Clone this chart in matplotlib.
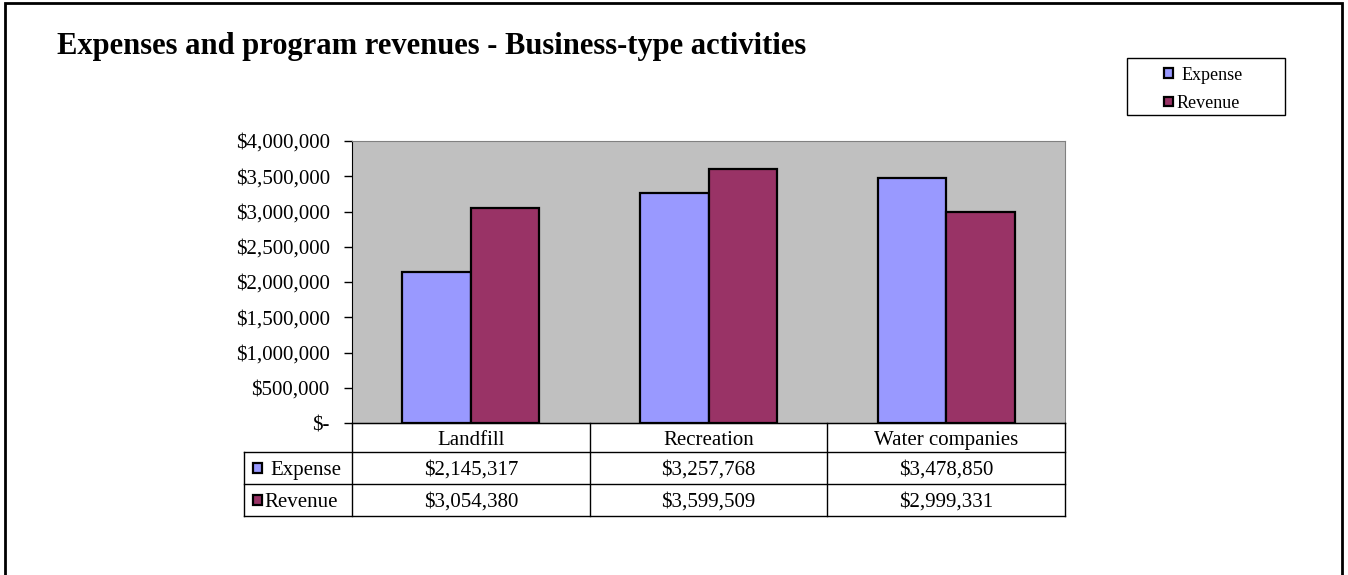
import matplotlib
matplotlib.use("Agg")
import matplotlib.pyplot as plt
from matplotlib.lines import Line2D
from matplotlib.patches import Rectangle
import numpy as np

categories = ["Landfill", "Recreation", "Water companies"]
series_names = ["Expense", "Revenue"]
expense = [2145317, 3257768, 3478850]
revenue = [3054380, 3599509, 2999331]
yticks = [0, 500000, 1000000, 1500000, 2000000, 2500000, 3000000, 3500000, 4000000]
title = "Expenses and program revenues - Business-type activities"

colors = ["#9999FF", "#993366"]
FONT = "Liberation Serif"
W, H = 1348, 575

fig = plt.figure(figsize=(W / 100, H / 100), dpi=100)
fig.patch.set_facecolor("white")


def fx(x):
    return x / W


def fy(y):
    return 1 - y / H


def hline(x0, x1, y, lw=1.0, color="black"):
    fig.add_artist(Line2D([fx(x0), fx(x1)], [fy(y), fy(y)], color=color, lw=lw,
                          transform=fig.transFigure))


def vline(x, y0, y1, lw=1.0, color="black"):
    fig.add_artist(Line2D([fx(x), fx(x)], [fy(y0), fy(y1)], color=color, lw=lw,
                          transform=fig.transFigure))


# outer border
fig.add_artist(Rectangle((fx(5), fy(580)), fx(1342 - 5), fy(3) - fy(580),
                         transform=fig.transFigure, fill=False, ec="black", lw=2))

# plot area
L, R, T, B = 352, 1065, 141, 423
ax = fig.add_axes([fx(L), fy(B), fx(R - L), fy(T) - fy(B)])
ax.set_facecolor("#C0C0C0")
x = np.arange(len(categories))
bw = 0.288
ax.bar(x - bw / 2, expense, bw, color=colors[0], edgecolor="black", lw=1.6, label=series_names[0])
ax.bar(x + bw / 2, revenue, bw, color=colors[1], edgecolor="black", lw=1.6, label=series_names[1])
ax.set_xlim(-0.5, len(categories) - 0.5)
ax.set_ylim(0, 4000000)
ax.set_yticks(yticks)
ax.set_yticklabels(["$-" if v == 0 else f"${v:,.0f}" for v in yticks],
                   fontfamily=FONT, fontsize=15)
ax.tick_params(axis="y", direction="out", length=6, width=1, pad=10)
ax.set_xticks([])
for s in ["top", "right"]:
    ax.spines[s].set_color("#808080")
ax.spines["left"].set_color("black")
ax.spines["bottom"].set_color("black")

# title
fig.text(fx(57), fy(43), title, fontfamily=FONT, fontweight="bold", fontsize=22,
         va="center_baseline", ha="left")

# legend box
fig.add_artist(Rectangle((fx(1127), fy(115)), fx(1285 - 1127), fy(58) - fy(115),
                         transform=fig.transFigure, fill=False, ec="black", lw=1))
for i, (name, c) in enumerate(zip(series_names, colors)):
    yc = 73 + i * 28
    fig.add_artist(Rectangle((fx(1164), fy(yc + 4.5)), fx(9), fy(yc - 4.5) - fy(yc + 4.5),
                             transform=fig.transFigure, fc=c, ec="black", lw=1.6))
    fig.text(fx(1182 if i == 0 else 1177), fy(yc), name, fontfamily=FONT, fontsize=13,
             va="center_baseline", ha="left")

# data table
rows_y = [423, 452, 484, 516]
col_x = [L + (R - L) * i / len(categories) for i in range(len(categories) + 1)]
tl = 244
hline(L, R, 423, lw=1.0)
for yy in rows_y[1:]:
    hline(tl, R, yy, lw=1.0)
vline(tl, 452, 516)
for xx in col_x:
    vline(xx, 423, 516)

for i, cat in enumerate(categories):
    cx = (col_x[i] + col_x[i + 1]) / 2
    fig.text(fx(cx), fy(438), cat, fontfamily=FONT, fontsize=15, ha="center",
             va="center_baseline")
    for j, vals in enumerate([expense, revenue]):
        yc = (rows_y[j + 1] + rows_y[j + 2]) / 2
        fig.text(fx(cx), fy(yc), f"${vals[i]:,.0f}", fontfamily=FONT, fontsize=15,
                 ha="center", va="center_baseline")

for j, (name, c) in enumerate(zip(series_names, colors)):
    yc = (rows_y[j + 1] + rows_y[j + 2]) / 2
    fig.add_artist(Rectangle((fx(253), fy(yc + 5)), fx(9), fy(yc - 5) - fy(yc + 5),
                             transform=fig.transFigure, fc=c, ec="black", lw=1.6))
    fig.text(fx(270 if j == 0 else 264), fy(yc), name, fontfamily=FONT, fontsize=15,
             ha="left", va="center_baseline")

fig.savefig("out.png", dpi=100)
